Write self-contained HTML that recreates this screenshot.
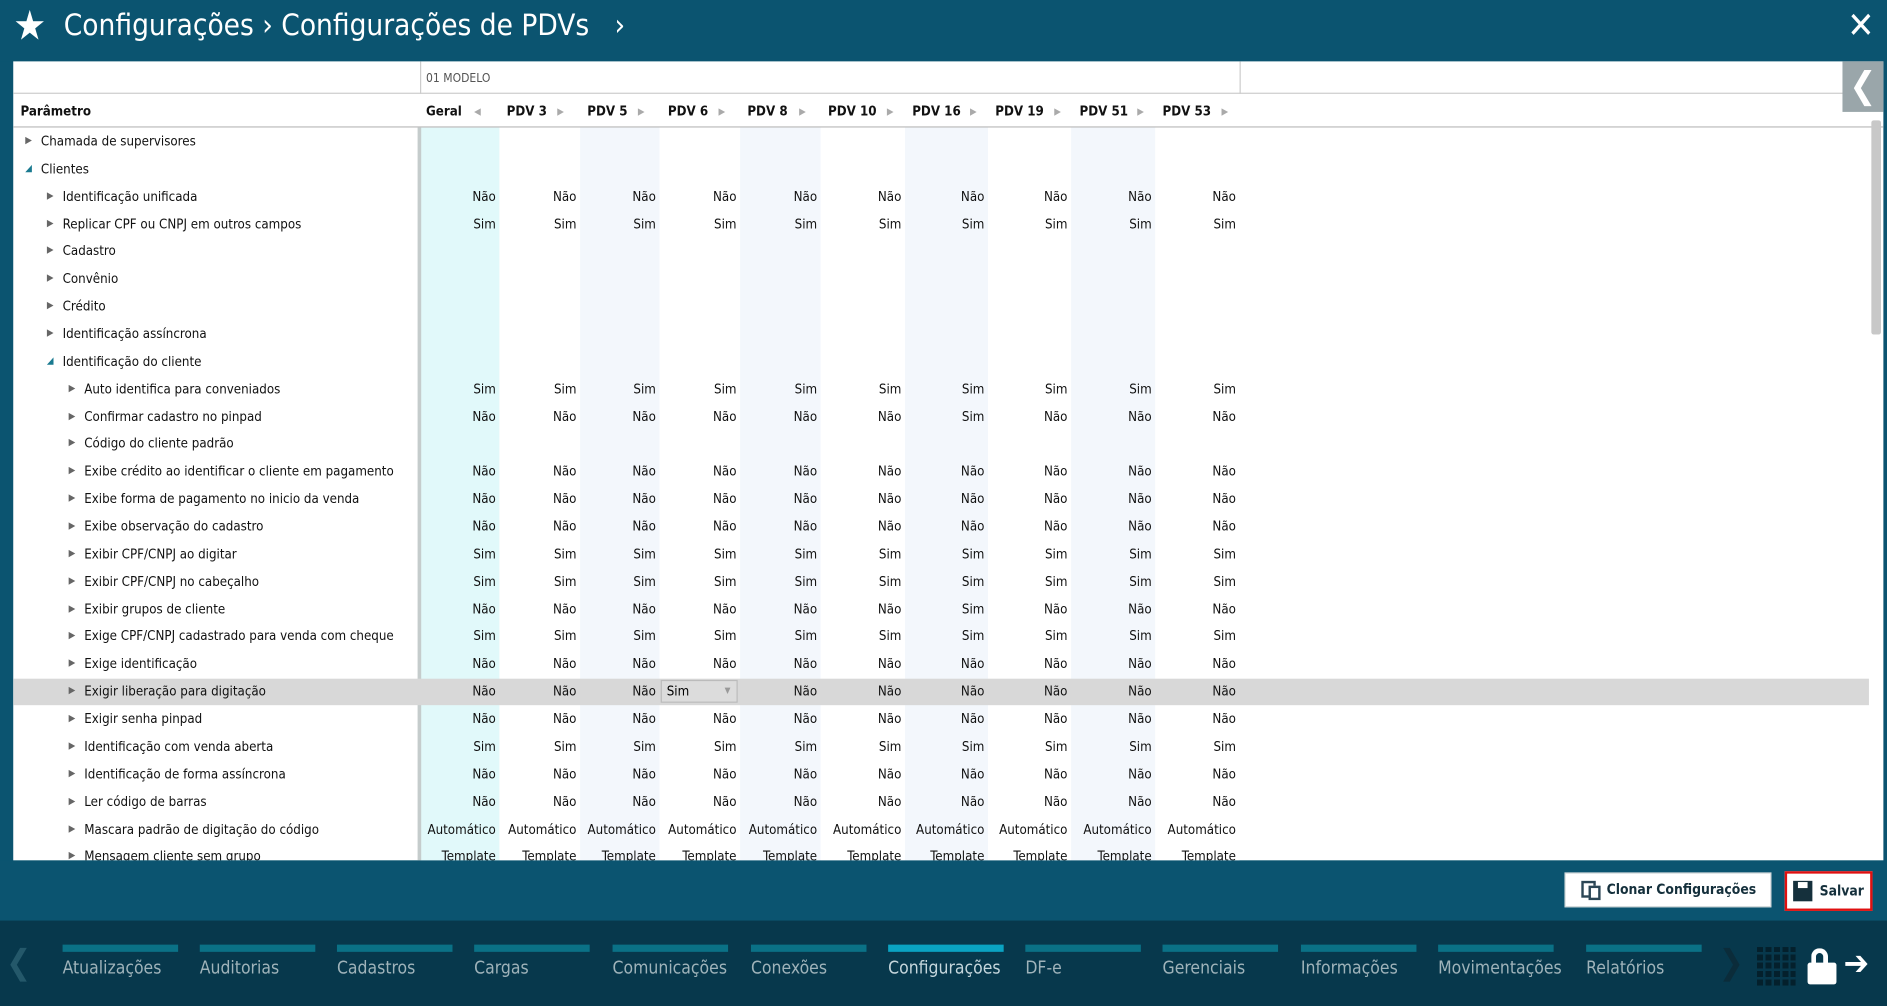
<!DOCTYPE html>
<html><head><meta charset="utf-8">
<style>
html,body{margin:0;padding:0;width:1887px;height:1006px;overflow:hidden;background:#0b5470;}
#s{position:absolute;left:0;top:0;width:1568px;height:836px;transform:scale(1.20344,1.20335);transform-origin:0 0;font-family:"DejaVu Sans Condensed","Liberation Sans",sans-serif;}
.a{position:absolute;}
.hdr{left:0;top:0;width:1568px;height:51px;background:#0b5470;}
.title{left:53px;top:6px;color:#fff;font-size:24.5px;font-family:"DejaVu Sans Condensed","Liberation Sans",sans-serif;white-space:nowrap;}
.panel{left:11px;top:51px;width:1554px;height:664px;background:#fff;overflow:hidden;}
.t{font-size:11px;color:#111;white-space:nowrap;}
.v{font-size:11px;color:#111;text-align:right;white-space:nowrap;}
.hb{font-size:11px;font-weight:bold;color:#111;white-space:nowrap;}
.arr{font-size:8px;color:#aaa;}
.tab{position:absolute;top:785px;width:96px;}
.tab .bar{height:6px;background:#0a7186;}
.tab .lbl{margin-top:6px;font-size:14.5px;color:#9fb3ba;white-space:nowrap;}
</style></head><body>
<div id="s">
<div class="a hdr"></div>
<div class="a" style="left:11px;top:2px;color:#fff;font-size:34px;line-height:40px;">★</div>
<div class="a title">Configurações › Configurações de PDVs &nbsp;&nbsp;›</div>
<div class="a" style="left:1535px;top:4px;color:#fff;font-size:30px;font-weight:bold;">✕</div>

<div class="a panel" id="p">
</div>
<div class="a" style="left:1531px;top:51px;width:34px;height:42px;background:#9aa6aa;color:#fff;font-size:30px;line-height:42px;text-align:center;font-weight:bold;">❮</div>
<div class="a" style="left:1555px;top:100px;width:8px;height:178px;background:#c8c8c8;border-radius:2px;"></div>

<div class="a" style="left:0;top:715px;width:1568px;height:50px;background:#0b5470;"></div>
<div class="a" style="left:1300px;top:725px;width:172px;height:29px;background:#fff;border:1px solid #cfd6d8;box-sizing:border-box;font-size:11.5px;font-weight:bold;color:#15303c;line-height:27px;"><span style="position:absolute;left:13px;top:6px;width:12px;height:14px;border:2px solid #2b4655;box-sizing:border-box;"></span><span style="position:absolute;left:19px;top:10px;width:10px;height:12px;border:2px solid #2b4655;background:#fff;box-sizing:border-box;"></span><span style="position:absolute;left:34px;">Clonar Configurações</span></div>
<div class="a" style="left:1483px;top:724px;width:73px;height:33px;background:#fff;border:2px solid #e01010;box-sizing:border-box;font-size:11.5px;font-weight:bold;color:#15303c;line-height:29px;"><span style="position:absolute;left:5px;top:6px;width:16px;height:17px;background:#15303c;"></span><span style="position:absolute;left:9px;top:7px;width:8px;height:5px;background:#fff;"></span><span style="position:absolute;left:27px;">Salvar</span></div>

<div class="a" style="left:0;top:765px;width:1568px;height:71px;background:#07384c;"></div>
<div class="a" style="left:5px;top:783px;color:#24586a;font-size:28px;">❮</div>
<div class="a" style="left:1428px;top:783px;color:#0b2c3a;font-size:28px;">❯</div>
<div id="tabs"></div>
<div class="a" style="left:1460px;top:787px;width:32px;height:32px;background:repeating-linear-gradient(90deg,#04202c 0 5px,transparent 5px 7px),#07384c;"></div>
<div class="a" style="left:1460px;top:787px;width:32px;height:32px;background:repeating-linear-gradient(0deg,transparent 0 5px,#07384c 5px 7px);"></div>
<div class="a" style="left:1505px;top:788px;width:14px;height:16px;border:4px solid #fff;border-bottom:none;border-radius:9px 9px 0 0;box-sizing:border-box;"></div>
<div class="a" style="left:1502px;top:800px;width:24px;height:18px;background:#fff;border-radius:2px;"></div>
<div class="a" style="left:1532px;top:784px;color:#fff;font-size:28px;font-weight:bold;">➔</div>
</div>
<script>
var p=document.getElementById('p');
function add(h){p.insertAdjacentHTML('beforeend',h);}
var cols=[[349,415,'#e1f9fa'],[415,482,'#fff'],[482,548,'#f3f7fc'],[548,615,'#fff'],[615,682,'#f3f7fc'],[682,752,'#fff'],[752,821,'#f3f7fc'],[821,890,'#fff'],[890,960,'#f3f7fc'],[960,1030,'#fff']];
var names=['Geral','PDV 3','PDV 5','PDV 6','PDV 8','PDV 10','PDV 16','PDV 19','PDV 51','PDV 53'];
var hx=[354,421,488,555,621,688,758,827,897,966],ax=[394,463,530,597,664,737,806,876,945,1015];
var O=11,T=51;
cols.forEach(function(c){add('<div class="a" style="left:'+(c[0]-O)+'px;top:'+(106-T)+'px;width:'+(c[1]-c[0])+'px;height:620px;background:'+c[2]+'"></div>');});
add('<div class="a" style="left:'+(349-O)+'px;top:0;width:1px;height:27px;background:#ccc"></div>');
add('<div class="a" style="left:'+(1030-O)+'px;top:0;width:1px;height:27px;background:#ccc"></div>');
add('<div class="a" style="left:0;top:26px;width:1554px;height:1px;background:#ccc"></div>');
add('<div class="a" style="left:0;top:54px;width:1554px;height:1px;background:#bbb"></div>');
add('<div class="a" style="left:'+(354-O)+'px;top:9px;font-size:10px;color:#555">01 MODELO</div>');
add('<div class="a hb" style="left:6px;top:35px">Parâmetro</div>');
names.forEach(function(n,i){add('<div class="a hb" style="left:'+(hx[i]-O)+'px;top:35px">'+n+'</div><div class="a arr" style="left:'+(ax[i]-O)+'px;top:37px">'+(i==0?'◀':'▶')+'</div>');});
add('<div class="a" style="left:'+(347-O)+'px;top:55px;width:3px;height:620px;background:#c5cccc"></div>');
var N='Não',S='Sim';
function all(v){return [v,v,v,v,v,v,v,v,v,v];}
var rows=[
[0,'c','Chamada de supervisores',null],[0,'e','Clientes',null],
[1,'c','Identificação unificada',all(N)],[1,'c','Replicar CPF ou CNPJ em outros campos',all(S)],
[1,'c','Cadastro',null],[1,'c','Convênio',null],[1,'c','Crédito',null],[1,'c','Identificação assíncrona',null],
[1,'e','Identificação do cliente',null],
[2,'c','Auto identifica para conveniados',all(S)],
[2,'c','Confirmar cadastro no pinpad',[N,N,N,N,N,N,S,N,N,N]],
[2,'c','Código do cliente padrão',null],
[2,'c','Exibe crédito ao identificar o cliente em pagamento',all(N)],
[2,'c','Exibe forma de pagamento no inicio da venda',all(N)],
[2,'c','Exibe observação do cadastro',all(N)],
[2,'c','Exibir CPF/CNPJ ao digitar',all(S)],
[2,'c','Exibir CPF/CNPJ no cabeçalho',all(S)],
[2,'c','Exibir grupos de cliente',[N,N,N,N,N,N,S,N,N,N]],
[2,'c','Exige CPF/CNPJ cadastrado para venda com cheque',all(S)],
[2,'c','Exige identificação',all(N)],
[2,'c','Exigir liberação para digitação',[N,N,N,'SEL',N,N,N,N,N,N]],
[2,'c','Exigir senha pinpad',all(N)],
[2,'c','Identificação com venda aberta',all(S)],
[2,'c','Identificação de forma assíncrona',all(N)],
[2,'c','Ler código de barras',all(N)],
[2,'c','Mascara padrão de digitação do código',all('Automático')],
[2,'c','Mensagem cliente sem grupo',all('Template')]];
var RH=22.86,y0=106;
rows.forEach(function(r,i){
 var top=y0+i*RH-T;
 if(r[2]=='Exigir liberação para digitação')add('<div class="a" style="left:0;top:'+(top+1)+'px;width:1542px;height:22px;background:#d8d8d8"></div>');
 var ind=[21,39,57][r[0]];
 add('<div class="a" style="left:'+(ind-O)+'px;top:'+(top+6)+'px;font-size:8px;color:'+(r[1]=='e'?'#1a7a90':'#666')+'">'+(r[1]=='e'?'◢':'▶')+'</div>');
 add('<div class="a t" style="left:'+(ind+13-O)+'px;top:'+(top+5)+'px">'+r[2]+'</div>');
 if(r[3])r[3].forEach(function(v,j){
  var c=cols[j];
  if(v=='SEL'){add('<div class="a" style="left:'+(c[0]+1-O)+'px;top:'+(top+2)+'px;width:64px;height:19px;border:1px solid #bbb;box-sizing:border-box;background:#dcdcdc;font-size:11px;line-height:17px;padding-left:4px">Sim<span style="position:absolute;right:5px;font-size:7px;color:#999">▼</span></div>');return;}
  add('<div class="a v" style="left:'+(c[0]-O-20)+'px;width:'+(c[1]-c[0]+20-3)+'px;top:'+(top+5)+'px">'+v+'</div>');
 });
});
var tabs=[['Atualizações',52],['Auditorias',166],['Cadastros',280],['Cargas',394],['Comunicações',509],['Conexões',624],['Configurações',738],['DF-e',852],['Gerenciais',966],['Informações',1081],['Movimentações',1195],['Relatórios',1318]];
var th='';
tabs.forEach(function(t){var act=t[0]=='Configurações';th+='<div class="tab" style="left:'+t[1]+'px"><div class="bar" style="'+(act?'background:#0aa3c2':'')+'"></div><div class="lbl" style="'+(act?'color:#c5d6dc':'')+'">'+t[0]+'</div></div>';});
document.getElementById('tabs').outerHTML=th;
</script>
</body></html>
